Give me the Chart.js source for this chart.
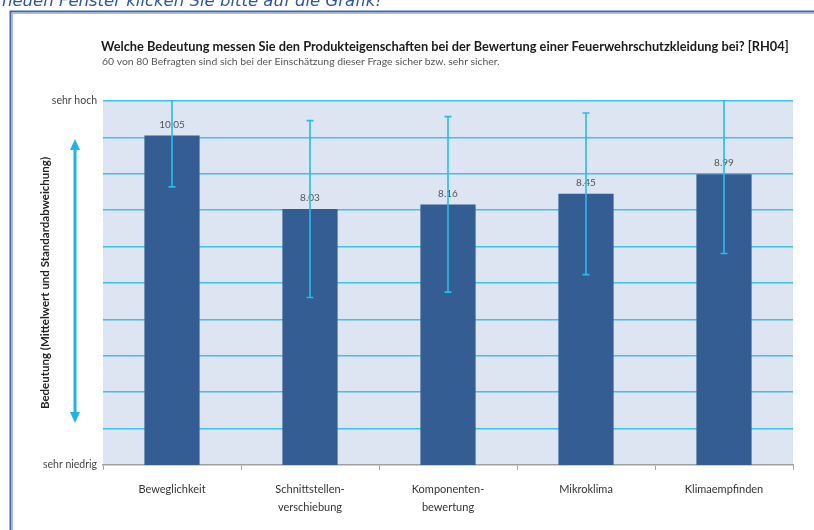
<!DOCTYPE html>
<html lang="de">
<head>
<meta charset="utf-8">
<title>Bedeutung der Produkteigenschaften [RH04]</title>
<script src="https://cdn.jsdelivr.net/npm/chart.js@4/dist/chart.umd.min.js"></script>
<style>
  html, body { margin: 0; padding: 0; background: #ffffff; }
  canvas { display: block; }
</style>
</head>
<body>
<canvas id="chart" width="814" height="530"></canvas>
<script>
// Kategorien (mehrzeilige Beschriftungen als Arrays)
const categories = [
  ['Beweglichkeit'],
  ['Schnittstellen-', 'verschiebung'],
  ['Komponenten-', 'bewertung'],
  ['Mikroklima'],
  ['Klimaempfinden']
];

// Mittelwerte und Standardabweichungen
const means   = [10.05, 8.03, 8.16, 8.45, 8.99];
const stdDevs = [1.41, 2.43, 2.41, 2.22, 2.18];

// Skala: 1 = sehr niedrig, 11 = sehr hoch
const scaleMin = 1;
const scaleMax = 11;
const scaleEndLabels = ['sehr niedrig', 'sehr hoch'];

const pageNote = 'neuen Fenster klicken Sie bitte auf die Grafik!';
const chartTitle = 'Welche Bedeutung messen Sie den Produkteigenschaften bei der Bewertung einer Feuerwehrschutzkleidung bei? [RH04]';
const chartSubtitle = '60 von 80 Befragten sind sich bei der Einschätzung dieser Frage sicher bzw. sehr sicher.';
const axisTitle = 'Bedeutung (Mittelwert und Standardabweichung)';

const FONT = 'Lato, "Open Sans", "DejaVu Sans", sans-serif';
const BAR_COLOR = '#335d93';
const GRID_COLOR = '#3cc3ec';
const ERR_COLOR = '#27bce9';
const PLOT_BG = '#dce5f1';

// Seitenrahmen, Überschriften, Pfeil und Hintergrund der Zeichenfläche
const decorPlugin = {
  id: 'decor',
  beforeDraw(chart) {
    const { ctx, chartArea: a } = chart;
    ctx.save();
    ctx.fillStyle = '#ffffff';
    ctx.fillRect(0, 0, chart.width, chart.height);

    // Hinweiszeile oberhalb des Rahmens
    ctx.fillStyle = '#2f57a4';
    ctx.font = 'italic 16.5px "DejaVu Sans", Verdana, sans-serif';
    ctx.textBaseline = 'alphabetic';
    ctx.textAlign = 'left';
    ctx.fillText(pageNote, 2, 6);

    // Rahmen
    ctx.strokeStyle = '#a9bde3';
    ctx.lineWidth = 1;
    ctx.strokeRect(12.5, 13.5, 900, 600);
    ctx.strokeStyle = '#4466b2';
    ctx.lineWidth = 2;
    ctx.strokeRect(10.5, 11.5, 900, 600);

    // Titel und Untertitel
    ctx.fillStyle = '#1a1a1a';
    ctx.font = 'bold 12.8px ' + FONT;
    ctx.textBaseline = 'middle';
    ctx.fillText(chartTitle, 101, 47);
    ctx.fillStyle = '#555555';
    ctx.font = '10.4px ' + FONT;
    ctx.fillText(chartSubtitle, 102, 62);

    // Doppelpfeil neben der Achsenbeschriftung
    const ax = 75, y1 = 139, y2 = 423, headLen = 11, headHalf = 5;
    ctx.strokeStyle = '#1cb4ea';
    ctx.fillStyle = '#1cb4ea';
    ctx.lineWidth = 3;
    ctx.beginPath();
    ctx.moveTo(ax, y1 + headLen - 1);
    ctx.lineTo(ax, y2 - headLen + 1);
    ctx.stroke();
    ctx.beginPath();
    ctx.moveTo(ax, y1); ctx.lineTo(ax + headHalf, y1 + headLen); ctx.lineTo(ax - headHalf, y1 + headLen);
    ctx.closePath();
    ctx.moveTo(ax, y2); ctx.lineTo(ax + headHalf, y2 - headLen); ctx.lineTo(ax - headHalf, y2 - headLen);
    ctx.closePath();
    ctx.fill();

    // Hintergrund der Zeichenfläche
    ctx.fillStyle = PLOT_BG;
    ctx.fillRect(a.left, a.top, a.right - a.left, a.bottom - a.top);
    ctx.restore();
  }
};

// Wertbeschriftungen und Fehlerbalken (Mittelwert ± Standardabweichung)
const errorBarPlugin = {
  id: 'errorBars',
  afterDatasetsDraw(chart) {
    const { ctx, chartArea: a } = chart;
    const yScale = chart.scales.y;
    const meta = chart.getDatasetMeta(0);
    ctx.save();

    ctx.fillStyle = '#555555';
    ctx.font = '10px ' + FONT;
    ctx.textAlign = 'center';
    ctx.textBaseline = 'middle';
    meta.data.forEach((bar, i) => {
      ctx.fillText(means[i].toFixed(2), bar.x, bar.y - 11);
    });

    ctx.beginPath();
    ctx.rect(a.left, a.top - 1, a.right - a.left, a.bottom - a.top + 2);
    ctx.clip();
    ctx.strokeStyle = ERR_COLOR;
    ctx.lineWidth = 1.6;
    const cap = 3.5;
    meta.data.forEach((bar, i) => {
      const hi = yScale.getPixelForValue(means[i] + stdDevs[i]);
      const lo = yScale.getPixelForValue(means[i] - stdDevs[i]);
      ctx.beginPath();
      ctx.moveTo(bar.x, hi); ctx.lineTo(bar.x, lo);
      ctx.moveTo(bar.x - cap, hi); ctx.lineTo(bar.x + cap, hi);
      ctx.moveTo(bar.x - cap, lo); ctx.lineTo(bar.x + cap, lo);
      ctx.stroke();
    });
    ctx.restore();
  }
};

new Chart(document.getElementById('chart'), {
  type: 'bar',
  data: {
    labels: categories,
    datasets: [{
      data: means,
      backgroundColor: BAR_COLOR,
      borderWidth: 0,
      barPercentage: 0.4,
      categoryPercentage: 1.0
    }]
  },
  options: {
    responsive: false,
    animation: false,
    events: [],
    layout: { padding: { top: 101, right: 21, bottom: 0, left: 0 } },
    plugins: {
      legend: { display: false },
      tooltip: { enabled: false },
      title: { display: false }
    },
    scales: {
      x: {
        offset: true,
        grid: {
          display: true,
          drawOnChartArea: false,
          drawTicks: true,
          tickLength: 5,
          color: '#a6a6a6',
          lineWidth: 1
        },
        border: { display: true, color: '#a0a0a0', width: 1.5 },
        ticks: {
          color: '#333333',
          font: { family: FONT, size: 11, lineHeight: 1.65 },
          padding: 10,
          maxRotation: 0,
          autoSkip: false
        },
        afterFit(scale) { scale.height = 65; }
      },
      y: {
        min: scaleMin,
        max: scaleMax,
        ticks: {
          stepSize: 1,
          padding: 6,
          color: '#444444',
          font: { family: FONT, size: 10.5 },
          callback(value) {
            if (value === scaleMin) return scaleEndLabels[0];
            if (value === scaleMax) return scaleEndLabels[1];
            return '';
          }
        },
        grid: {
          drawTicks: false,
          lineWidth: 1.5,
          color(ctx) {
            return ctx.tick && ctx.tick.value === scaleMin ? 'rgba(0,0,0,0)' : GRID_COLOR;
          }
        },
        border: { display: false },
        title: {
          display: true,
          text: axisTitle,
          color: '#222222',
          font: { family: FONT, size: 11.5, weight: 'bold' },
          padding: { top: 38, bottom: 0 }
        },
        afterFit(scale) { scale.width = 103; }
      }
    }
  },
  plugins: [decorPlugin, errorBarPlugin]
});
</script>
</body>
</html>
